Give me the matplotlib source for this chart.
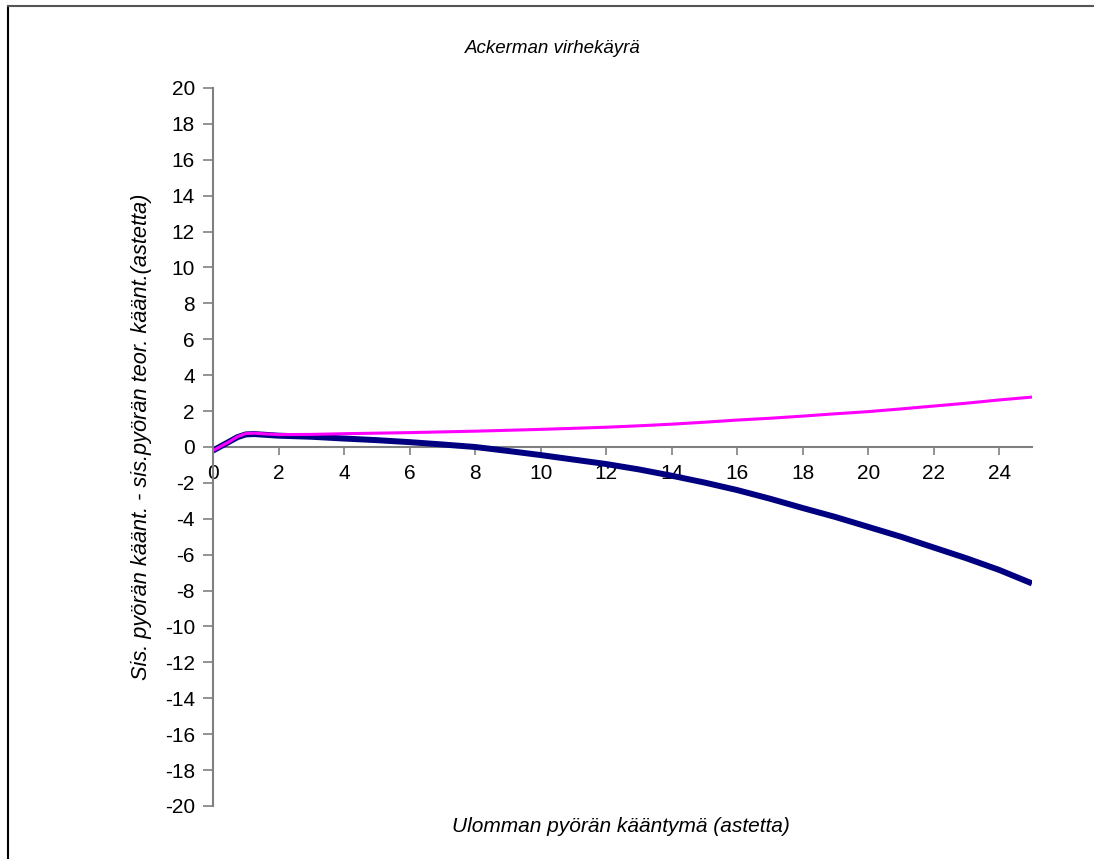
import numpy as np
import matplotlib.pyplot as plt
from matplotlib.lines import Line2D

plt.rcParams['font.family'] = ['Liberation Sans', 'DejaVu Sans']
plt.rcParams['axes.unicode_minus'] = False

# outer wheel angle (deg)
angle = [0, 0.25, 0.5, 0.75, 1, 1.25, 1.5, 2, 3, 4, 5, 6, 7, 8, 9, 10, 11,
         12, 13, 14, 15, 16, 17, 18, 19, 20, 21, 22, 23, 24, 25]
# actual inner angle - theoretical inner angle (deg)
error_actual = [-0.2, 0.05, 0.3, 0.55, 0.7, 0.72, 0.69, 0.63, 0.57, 0.47,
                0.38, 0.27, 0.14, 0.0, -0.22, -0.45, -0.7, -0.95, -1.25,
                -1.6, -1.98, -2.4, -2.88, -3.4, -3.9, -4.45, -5.0, -5.6,
                -6.2, -6.85, -7.6]
error_design = [-0.2, 0.05, 0.3, 0.58, 0.75, 0.77, 0.74, 0.69, 0.7, 0.74,
                0.77, 0.8, 0.84, 0.88, 0.93, 0.98, 1.04, 1.1, 1.18, 1.27,
                1.38, 1.5, 1.6, 1.72, 1.85, 1.97, 2.12, 2.28, 2.44, 2.62, 2.78]

x_ticks = list(range(0, 25, 2))
y_ticks = list(range(-20, 21, 2))

fig = plt.figure(figsize=(10.94, 8.59), dpi=100)
ax = fig.add_axes([0.1947, 0.0617, 0.7486, 0.8359])

ax.plot(angle, error_actual, color='#000080', lw=4.3, solid_capstyle='butt')
ax.plot(angle, error_design, color='#FF00FF', lw=2.2, solid_capstyle='butt')

ax.set_xlim(0, 25)
ax.set_ylim(-20, 20)
ax.set_xticks(x_ticks)
ax.set_yticks(y_ticks)

for s in ['top', 'right']:
    ax.spines[s].set_visible(False)
ax.spines['bottom'].set_position(('data', 0))
for s in ['left', 'bottom']:
    ax.spines[s].set_color('#808080')
    ax.spines[s].set_linewidth(1.5)
ax.spines['bottom'].set_zorder(1)

ax.tick_params(axis='y', direction='out', length=7, width=1.2, color='#808080',
               labelsize=15, pad=6)
ax.tick_params(axis='x', direction='out', length=6, width=1.2, color='#808080',
               labelsize=15, pad=6)

fig.text(0.505, 0.944, 'Ackerman virhekäyrä', ha='center', va='center',
         fontsize=13.5, style='italic')
fig.text(0.568, 0.0384, 'Ulomman pyörän kääntymä (astetta)', ha='center',
         va='center', fontsize=15, style='italic')
fig.text(0.129, 0.491, 'Sis. pyörän käänt. - sis.pyörän teor. käänt.(astetta)',
         ha='center', va='center', rotation=90, fontsize=15.7, style='italic')

# frame round the chart
fig.add_artist(Line2D([0.0073, 0.0073], [0, 0.993], color='black', lw=1.5))
fig.add_artist(Line2D([0.0073, 1.0], [0.993, 0.993], color='#555555', lw=1.5))

fig.savefig('out.png', dpi=100)
